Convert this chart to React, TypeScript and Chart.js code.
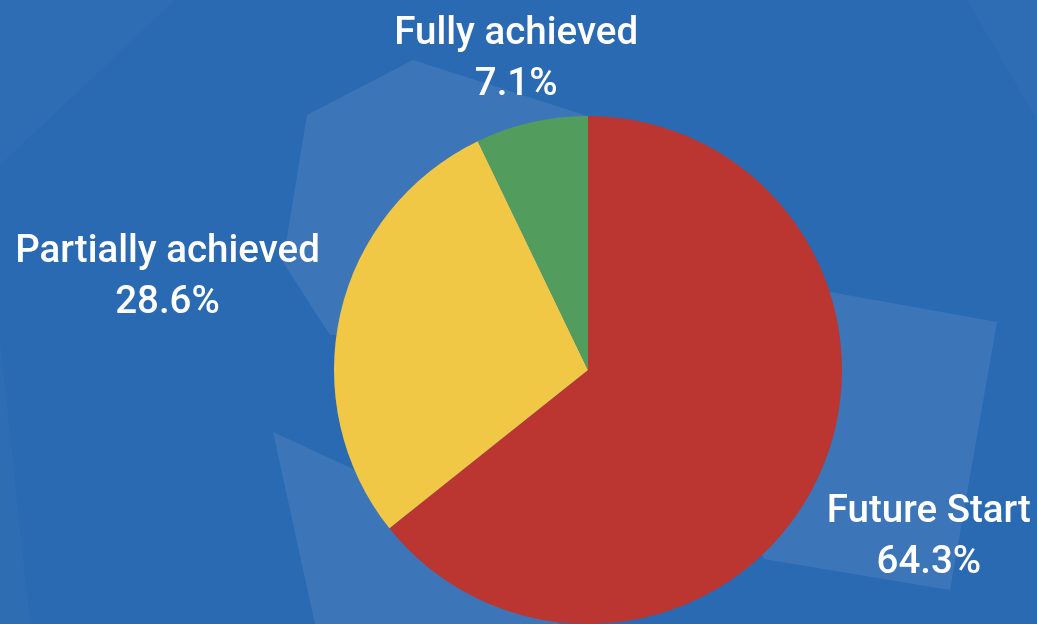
import React, { useEffect, useRef } from "react";
import { Chart, registerables } from "chart.js";

Chart.register(...registerables);

const categories = ["Future Start", "Partially achieved", "Fully achieved"];
const counts = [9, 4, 1];
const sliceColors = ["#bb3630", "#f1c846", "#529d5e"];

const BG = "#2a6ab2";

const backgroundPlugin = {
  id: "bgDeco",
  beforeDraw(chart: any) {
    const ctx = chart.ctx;
    const W = chart.width;
    const H = chart.height;
    ctx.save();
    ctx.fillStyle = BG;
    ctx.fillRect(0, 0, W, H);
    const poly = (pts: number[][], alpha: number) => {
      ctx.beginPath();
      pts.forEach((p, i) => (i === 0 ? ctx.moveTo(p[0], p[1]) : ctx.lineTo(p[0], p[1])));
      ctx.closePath();
      ctx.fillStyle = `rgba(255,255,255,${alpha})`;
      ctx.fill();
    };
    // decorative faint shapes
    poly([[0, 0], [175, 0], [0, 165]], 0.02);
    poly([[967, 0], [1037, 0], [1037, 120]], 0.02);
    poly([[0, 340], [0, 624], [30, 624]], 0.025);
    poly([[307, 115], [413, 60], [600, 120], [560, 330], [330, 335], [283, 262]], 0.085);
    poly([[273, 432], [420, 500], [560, 624], [315, 624]], 0.085);
    poly([[830, 292], [997, 322], [950, 590], [764, 559], [700, 420]], 0.085);
    ctx.restore();
  },
};

const labelPlugin = {
  id: "outLabels",
  afterDatasetsDraw(chart: any) {
    const ctx = chart.ctx;
    const meta = chart.getDatasetMeta(0);
    const data = chart.data.datasets[0].data as number[];
    const total = data.reduce((a: number, b: number) => a + b, 0);
    const fontSize = 38.5;
    const lineH = 51;
    const pad = 25;
    const halfV = 17;
    ctx.save();
    ctx.font = `500 ${fontSize}px Roboto`;
    ctx.fillStyle = "#ffffff";
    ctx.textAlign = "center";
    ctx.textBaseline = "alphabetic";
    meta.data.forEach((arc: any, i: number) => {
      const { x, y, startAngle, endAngle, outerRadius } = arc.getProps(
        ["x", "y", "startAngle", "endAngle", "outerRadius"],
        true
      );
      const mid = (startAngle + endAngle) / 2;
      const lines = [
        String(chart.data.labels[i]),
        ((data[i] / total) * 100).toFixed(1) + "%",
      ];
      const w = Math.max(...lines.map((l) => ctx.measureText(l).width));
      const c = Math.cos(mid);
      const s = Math.sin(mid);
      const d = outerRadius + pad + Math.abs(c) * (w / 2) + Math.abs(s) * halfV;
      const cx = x + c * d;
      const cy = y + s * d;
      const capH = fontSize * 0.711;
      const blockH = lineH + capH;
      const firstBase = cy - blockH / 2 + capH;
      lines.forEach((l, k) => ctx.fillText(l, cx, firstBase + k * lineH));
    });
    ctx.restore();
  },
};

export default function App() {
  const ref = useRef<HTMLCanvasElement | null>(null);
  useEffect(() => {
    document.body.style.margin = "0";
    const chart = new Chart(ref.current as HTMLCanvasElement, {
      type: "pie",
      data: {
        labels: categories,
        datasets: [
          {
            data: counts,
            backgroundColor: sliceColors,
            borderWidth: 0,
          },
        ],
      },
      options: {
        responsive: false,
        animation: false,
        layout: { padding: { left: 334, right: 195, top: 116, bottom: 0 } },
        plugins: {
          legend: { display: false },
          tooltip: { enabled: false },
        },
      },
      plugins: [backgroundPlugin, labelPlugin],
    });
    return () => chart.destroy();
  }, []);
  return (
    <div style={{ position: "fixed", left: 0, top: 0, width: 1037, height: 624 }}>
      <canvas ref={ref} width={1037} height={624} style={{ display: "block" }} />
    </div>
  );
}
